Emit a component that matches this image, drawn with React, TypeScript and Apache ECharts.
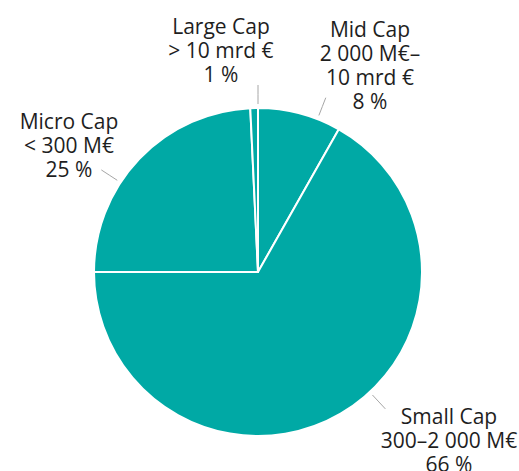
import React, { useEffect, useRef } from "react";
import * as echarts from "echarts";

// Data (clockwise from 12 o'clock)
const categories = ["Mid Cap", "Small Cap", "Micro Cap", "Large Cap"];
const shares = [8.2, 66.8, 24.25, 0.75];
const descriptions = ["2 000 M€–\n10 mrd €", "300–2 000 M€", "< 300 M€", "> 10 mrd €"];
const percentLabels = ["8 %", "66 %", "25 %", "1 %"];

// Layout (styles / positions, not data)
const CENTER: [number, number] = [258, 272];
const RADIUS = 164;
const LINE_START = 168;
const LINE_END = 187;
const labelCenters: [number, number][] = [
  [370, 65],
  [449, 440],
  [69, 145],
  [221, 50],
];

const TEAL = "#00a9a5";

export default function App() {
  const ref = useRef<HTMLDivElement>(null);

  useEffect(() => {
    if (!ref.current) return;
    const chart = echarts.init(ref.current, undefined, { renderer: "svg" });
    const data = categories.map((name, i) => ({ name, value: shares[i] }));
    const [cx, cy] = CENTER;
    const clamp = (v: number, a: number, b: number) => Math.max(a, Math.min(b, v));

    chart.setOption({
      animation: false,
      backgroundColor: "#ffffff",
      series: [
        {
          type: "pie",
          center: CENTER,
          radius: RADIUS,
          startAngle: 90,
          clockwise: true,
          avoidLabelOverlap: false,
          minShowLabelAngle: 0,
          emphasis: { disabled: true },
          itemStyle: { color: TEAL, borderColor: "#ffffff", borderWidth: 2 },
          label: {
            show: true,
            position: "outside",
            formatter: (p: any) =>
              `${p.name}\n${descriptions[p.dataIndex]}\n${percentLabels[p.dataIndex]}`,
            fontFamily: "Open Sans",
            fontSize: 21,
            lineHeight: 24,
            color: "#1e1e1e",
            align: "center",
          },
          labelLine: {
            show: true,
            length: 18,
            length2: 0,
            lineStyle: { color: "#a6a6a6", width: 1 },
          },
          labelLayout: (p: any) => {
            const [lx, ly] = labelCenters[p.dataIndex];
            const w = p.labelRect.width;
            const h = p.labelRect.height;
            const nx = clamp(cx, lx - w / 2, lx + w / 2);
            const ny = clamp(cy, ly - h / 2, ly + h / 2);
            const dx = nx - cx;
            const dy = ny - cy;
            const d = Math.hypot(dx, dy) || 1;
            const ux = dx / d;
            const uy = dy / d;
            return {
              x: lx,
              y: ly,
              align: "center",
              verticalAlign: "middle",
              labelLinePoints: [
                [cx + ux * LINE_START, cy + uy * LINE_START],
                [cx + ux * (LINE_START + LINE_END) / 2, cy + uy * (LINE_START + LINE_END) / 2],
                [cx + ux * LINE_END, cy + uy * LINE_END],
              ],
            };
          },
          data,
        },
      ],
    });
    return () => chart.dispose();
  }, []);

  return (
    <div
      ref={ref}
      style={{ position: "fixed", left: 0, top: 0, width: 519, height: 471 }}
    />
  );
}
